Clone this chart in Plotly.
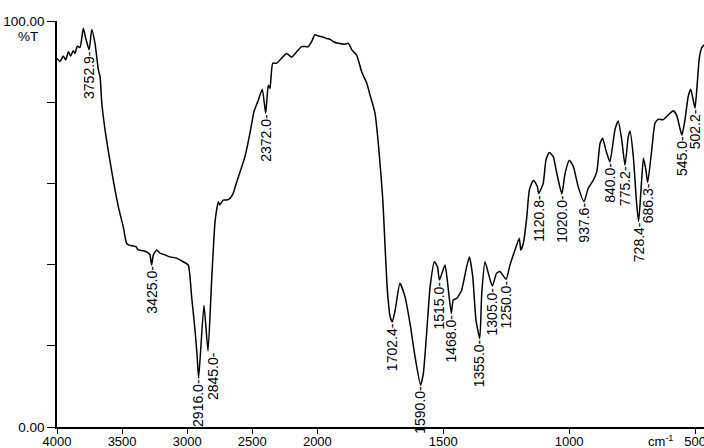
import numpy as np
import plotly.graph_objects as go

# ---- data (wavenumber in cm-1, transmittance in %T) ----
wavenumber = [4000, 3977, 3952, 3933, 3913, 3895, 3875, 3862, 3844, 3823,
              3798, 3779, 3753, 3733, 3708, 3682, 3669, 3656, 3631, 3610,
              3568, 3529, 3491, 3465, 3445, 3393, 3376, 3337, 3299, 3286,
              3273, 3260, 3234, 3209, 3171, 3132, 3081, 3030, 2992, 2966,
              2940, 2923, 2912, 2871, 2840, 2812, 2787, 2774, 2761, 2750,
              2723, 2697, 2671, 2646, 2620, 2556, 2518, 2487, 2454, 2423,
              2397, 2377, 2364, 2343, 2313, 2287, 2236, 2197, 2159, 2121,
              2070, 2044, 2019, 1996, 1976, 1963, 1950, 1936, 1917, 1890,
              1877, 1863, 1844, 1824, 1804, 1791, 1771, 1758, 1748, 1740,
              1731, 1722, 1711, 1702.4, 1691, 1672, 1652, 1632, 1612, 1590,
              1579, 1566, 1552, 1535, 1523, 1515, 1493, 1484, 1468, 1460,
              1446, 1427, 1407, 1396, 1383, 1370, 1355, 1347, 1334, 1321,
              1305, 1288, 1275, 1250, 1235, 1215, 1198, 1192, 1182, 1168,
              1158, 1142, 1126, 1120.8, 1103, 1092, 1079, 1063, 1049, 1029,
              1016, 999, 983, 964, 941, 924, 904, 890, 877, 867,
              854, 838, 818, 805, 791, 778, 765, 758, 745, 732,
              724, 712, 705, 695, 688, 672, 659, 646, 626, 599,
              586, 573, 560, 552, 540, 527, 517, 507, 500, 491,
              483, 474, 465]
transmittance = [90.8, 90.0, 91.4, 90.4, 92.4, 91.4, 92.7, 92.0, 93.8, 93.5,
                 98.2, 95.7, 92.9, 97.9, 94.5, 87.9, 86.3, 79.8, 73.2, 68.8,
                 60.8, 54.3, 49.3, 45.2, 44.8, 44.4, 43.6, 43.4, 42.9, 42.4,
                 39.9, 42.4, 43.6, 42.8, 42.4, 41.9, 41.6, 40.7, 39.9, 32.1,
                 23.9, 17.3, 12.0, 30.0, 18.7, 36.2, 50.2, 53.4, 55.5, 54.7,
                 55.9, 55.9, 56.3, 57.6, 60.3, 66.6, 72.3, 77.7, 80.5, 83.2,
                 77.3, 84.2, 83.4, 89.6, 89.6, 90.4, 92.0, 91.1, 92.4, 93.7,
                 93.7, 94.9, 96.6, 96.3, 96.0, 95.7, 95.5, 94.9, 94.5, 94.3,
                 94.5, 92.9, 91.6, 87.5, 84.7, 81.8, 77.3, 69.9, 62.5, 55.9,
                 44.4, 33.7, 27.2, 25.9, 28.8, 35.4, 32.1, 25.5, 17.3, 10.3,
                 13.2, 23.1, 34.6, 40.7, 39.5, 36.2, 39.9, 36.2, 28.0, 31.3,
                 31.7, 33.7, 39.5, 41.9, 37.1, 26.4, 21.8, 32.9, 40.7, 37.9,
                 34.7, 37.9, 38.3, 36.4, 39.9, 43.6, 46.5, 43.6, 45.2, 51.8,
                 58.4, 60.8, 59.2, 57.5, 60.0, 65.8, 67.6, 66.6, 62.5, 57.4,
                 62.5, 65.7, 64.1, 59.2, 55.5, 58.8, 60.8, 62.9, 69.9, 71.1,
                 68.2, 65.3, 73.2, 75.4, 70.7, 64.5, 71.5, 72.9, 66.6, 55.1,
                 50.6, 60.8, 66.2, 63.3, 60.2, 68.2, 74.8, 75.8, 75.7, 77.3,
                 77.9, 76.8, 73.6, 71.9, 75.6, 81.4, 83.2, 80.5, 78.5, 84.7,
                 90.8, 93.3, 94.1]

peak_pos = [3753, 3273, 2912, 2840, 2397, 1702.4, 1590, 1515, 1468, 1355,
            1305, 1250, 1120.8, 1029, 941, 838, 778, 724, 688, 552, 500]
peak_text = ["3752.9-", "3425.0-", "2916.0-", "2845.0-", "2372.0-", "1702.4-",
             "1590.0-", "1515.0-", "1468.0-", "1355.0-", "1305.0-", "1250.0-",
             "1120.8-", "1020.0-", "937.6-", "840.0-", "775.2-", "728.4-",
             "686.3-", "545.0-", "502.2-"]
peak_xshift = [0, 0, 0, 5, 0, 0, 0, 0, 0, 0, 0, 0, 0, 0, 0, 0, 0, 0, 0, 0, 0]

x_ticks = [4000, 3500, 3000, 2500, 2000, 1500, 1000, 500]
y_ticks = [0, 20, 40, 60, 80, 100]
y_ticktext = ["0.00", "", "", "", "", "100.00"]

# axis above 2000 cm-1 is compressed (instrument chart scale change)
BREAK = 2000.0
FACTOR = 1.934


def to_axis(w):
    w = np.asarray(w, dtype=float)
    return np.where(w <= BREAK, w, BREAK + (w - BREAK) / FACTOR)


wn_ax = to_axis(wavenumber)
order = np.argsort(wn_ax)

fig = go.Figure()
fig.add_trace(go.Scatter(
    x=wn_ax, y=transmittance, mode="lines",
    line=dict(color="black", width=1.5, shape="spline", smoothing=0.5),
    hoverinfo="skip", showlegend=False))

FONT = "Liberation Sans, Arial, Helvetica, sans-serif"
peak_y = np.interp(to_axis(peak_pos), wn_ax[order], np.asarray(transmittance)[order])
for p, t, y, xs in zip(peak_pos, peak_text, peak_y, peak_xshift):
    fig.add_annotation(x=float(to_axis(p)), y=float(y), text=t, showarrow=False,
                       textangle=-90, xanchor="center", yanchor="top",
                       xshift=xs, yshift=1,
                       font=dict(family=FONT, size=14, color="black"))

fig.add_annotation(xref="paper", yref="paper", x=-0.045, y=0.985, text="%T",
                   showarrow=False, xanchor="center", yanchor="top",
                   font=dict(family=FONT, size=13.5, color="black"))
fig.add_annotation(xref="paper", yref="paper", x=0.932, y=-0.056, text="cm<sup>-1</sup>",
                   showarrow=False, xanchor="center", yanchor="bottom", borderpad=0,
                   font=dict(family=FONT, size=13, color="black"))

fig.update_layout(
    width=704, height=448,
    margin=dict(l=57, r=0, t=21, b=21, pad=0, autoexpand=False),
    paper_bgcolor="white", plot_bgcolor="white",
    font=dict(family=FONT, size=13.5, color="black"),
    xaxis=dict(range=[float(to_axis(4000)), 464.3], automargin=False,
               tickvals=to_axis(x_ticks).tolist(), ticktext=[str(v) for v in x_ticks],
               ticks="outside", ticklen=5, tickwidth=1.2, tickcolor="black",
               ticklabelstandoff=-3, ticklabeloverflow="allow", tickfont=dict(size=13),
               showline=True, linecolor="black", linewidth=1.6,
               showgrid=False, zeroline=False),
    yaxis=dict(range=[0, 100], automargin=False, tickvals=y_ticks, ticktext=y_ticktext,
               ticks="outside", ticklen=8, tickwidth=1.2, tickcolor="black",
               showline=True, linecolor="black", linewidth=1.6,
               showgrid=False, zeroline=False),
)

fig.write_html("out.html", config={"displayModeBar": False},
               post_script="document.body.style.margin='0';document.body.style.overflow='hidden';")
